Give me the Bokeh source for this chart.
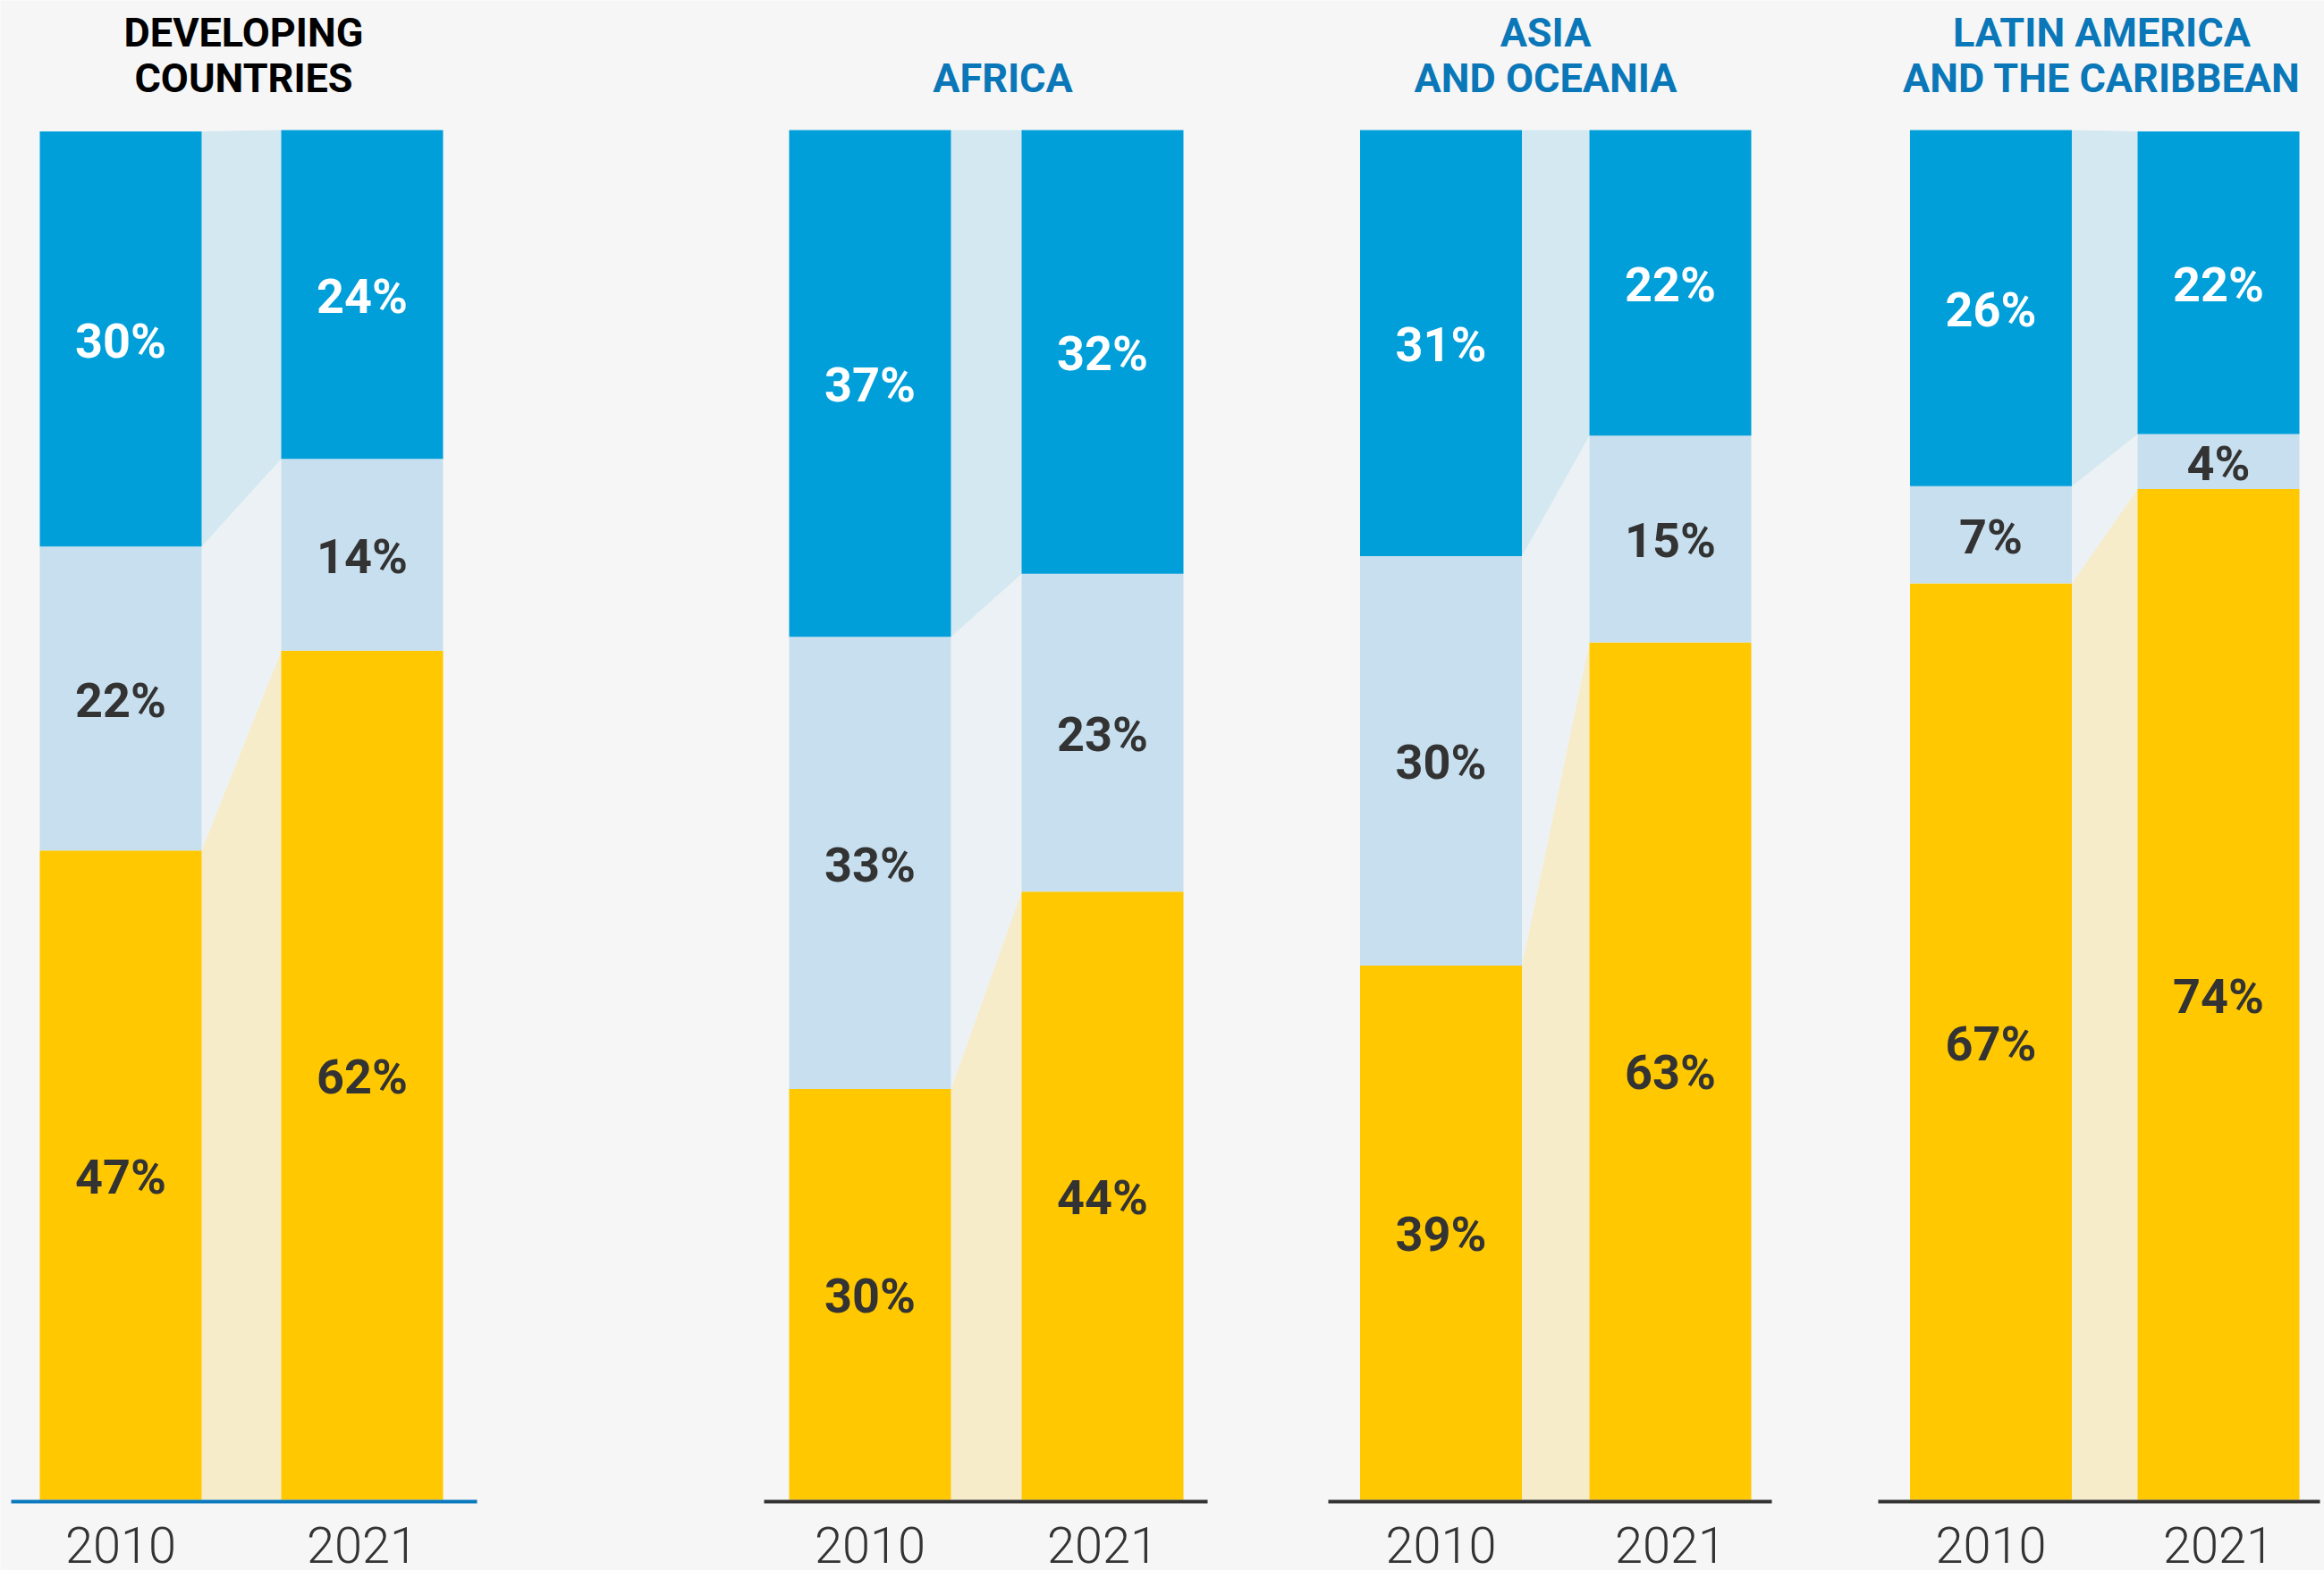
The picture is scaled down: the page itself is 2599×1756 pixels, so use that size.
from bokeh.plotting import figure
from bokeh.models import Range1d, ColumnDataSource
from bokeh.embed import file_html
from bokeh.resources import INLINE
from bokeh.core.properties import value

# ---------------- data ----------------
regions = ["DEVELOPING COUNTRIES", "AFRICA", "ASIA AND OCEANIA", "LATIN AMERICA AND THE CARIBBEAN"]
title_lines = [["DEVELOPING", "COUNTRIES"], ["AFRICA"], ["ASIA", "AND OCEANIA"],
               ["LATIN AMERICA", "AND THE CARIBBEAN"]]
years = ["2010", "2021"]
# shares in percent, stacked bottom -> top: yellow, light blue, blue
yellow_2010 = [47.4, 30.0, 39.0, 66.9]
light_2010 = [22.2, 33.0, 29.9, 7.1]
blue_2010 = [30.3, 37.0, 31.1, 26.0]
yellow_2021 = [62.0, 44.4, 62.6, 73.8]
light_2021 = [14.0, 23.2, 15.1, 4.0]
blue_2021 = [24.0, 32.4, 22.3, 22.1]

# ---------------- layout / style ----------------
W, H = 2599, 1756
PX = 15.32            # pixels per percentage point
BASE = 1677           # baseline pixel row
BG = "#f6f6f6"
C_BLUE, C_LIGHT, C_YELLOW = "#009fda", "#c7dfee", "#ffc800"
K_BLUE, K_LIGHT, K_YELLOW = "#d3e8f0", "#ebf1f4", "#f7ecc9"
TXT = "#333333"
BAR_W = 181
cx_2010 = [134.5, 972.5, 1611, 2226]
cx_2021 = [404.5, 1232.5, 1867.5, 2480.5]
title_x = [272, 1121, 1728, 2350]
title_colors = ["#000000", "#0a77b8", "#0a77b8", "#0a77b8"]
base_x0 = [12, 854, 1485, 2100]
base_x1 = [533, 1350, 1981, 2594]
base_colors = ["#0a79bd", "#333333", "#333333", "#333333"]
SHIFT = -17           # correction of text vertical placement

p = figure(width=W, height=H, output_backend="svg", toolbar_location=None,
           x_range=Range1d(0, W),
           y_range=Range1d(-(H - BASE) / PX, BASE / PX),
           min_border=0, min_border_left=0, min_border_right=0,
           min_border_top=0, min_border_bottom=0)
p.background_fill_color = BG
p.border_fill_color = BG
p.outline_line_color = None
p.axis.visible = False
p.grid.visible = False

# ---------------- connectors ----------------
seg_2010 = [yellow_2010, light_2010, blue_2010]
seg_2021 = [yellow_2021, light_2021, blue_2021]
kcols = [K_YELLOW, K_LIGHT, K_BLUE]
bcols = [C_YELLOW, C_LIGHT, C_BLUE]
lcols = [TXT, TXT, "#ffffff"]

xs, ys, cs = [], [], []
for i in range(len(regions)):
    b10 = b21 = 0.0
    xr = cx_2010[i] + BAR_W / 2
    xl = cx_2021[i] - BAR_W / 2
    for k in range(3):
        t10 = b10 + seg_2010[k][i]
        t21 = b21 + seg_2021[k][i]
        xs.append([xr, xr, xl, xl])
        ys.append([b10, t10, t21, b21])
        cs.append(kcols[k])
        b10, b21 = t10, t21
p.patches(xs=xs, ys=ys, fill_color=cs, line_color=None)

# ---------------- bars + labels ----------------
bx, bb, bt, bc = [], [], [], []
lx, ly, lt, lc = [], [], [], []
for centers, segs in ((cx_2010, seg_2010), (cx_2021, seg_2021)):
    for i in range(len(regions)):
        bottom = 0.0
        for k in range(3):
            v = segs[k][i]
            bx.append(centers[i]); bb.append(bottom); bt.append(bottom + v); bc.append(bcols[k])
            lx.append(centers[i]); ly.append(bottom + v / 2); lt.append(f"{round(v)}%"); lc.append(lcols[k])
            bottom += v
p.vbar(x=bx, bottom=bb, top=bt, width=BAR_W, fill_color=bc, line_color=None)

lsrc = ColumnDataSource(dict(x=lx, y=ly, t=lt, c=lc))
p.text(x="x", y="y", text="t", source=lsrc, text_color="c", text_align="center",
       text_baseline="alphabetic", y_offset=19 + SHIFT, text_font=value("Roboto"),
       text_font_style="bold", text_font_size="54px")

# ---------------- baselines ----------------
p.segment(x0=base_x0, x1=base_x1, y0=[-0.13] * 4, y1=[-0.13] * 4,
          line_color=base_colors, line_width=4)

# ---------------- year labels ----------------
yx = cx_2010 + cx_2021
yt = [years[0]] * 4 + [years[1]] * 4
p.text(x=yx, y=[0] * 8, text=yt, text_align="center", text_baseline="alphabetic",
       y_offset=67 + SHIFT, text_color=TXT, text_font=value("'Roboto Light', Roboto"),
       text_font_size="56px")

# ---------------- titles ----------------
tx, ty, tt, tc, to = [], [], [], [], []
for i, lines in enumerate(title_lines):
    n = len(lines)
    for j, line in enumerate(lines):
        tx.append(title_x[i]); ty.append(100); tt.append(line); tc.append(title_colors[i])
        to.append(-41 - 51 * (n - 1 - j) + SHIFT)
tsrc = ColumnDataSource(dict(x=tx, y=ty, t=tt, c=tc, o=to))
p.text(x="x", y="y", text="t", source=tsrc, text_color="c", y_offset="o",
       text_align="center", text_baseline="alphabetic", text_font=value("Roboto"),
       text_font_style="bold", text_font_size="45px")

open("out.html", "w").write(file_html(p, INLINE))
